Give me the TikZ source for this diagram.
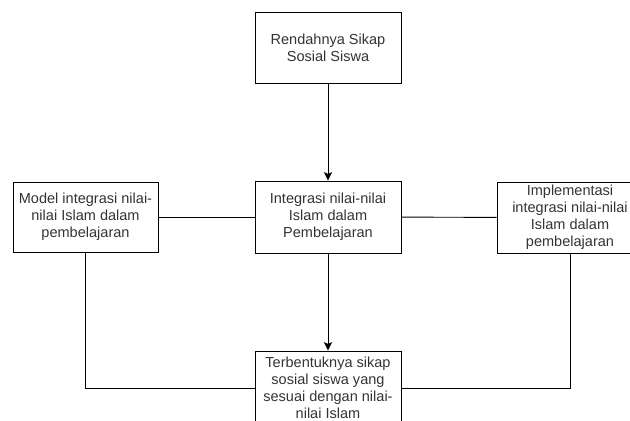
\documentclass[tikz,border=0pt]{standalone}
\usepackage{fontspec}
\setmainfont{Liberation Sans}
\usepackage{xcolor}
\usetikzlibrary{arrows.meta}
\definecolor{textgray}{RGB}{51,51,51}

\begin{document}
\begin{tikzpicture}[x=0.03cm,y=-0.03cm,
  box/.style={draw, line width=0.8pt, text=textgray, align=center, inner sep=0pt,
    font=\fontsize{12.4}{14.6}\selectfont, minimum width=4.38cm},
  link/.style={line width=0.8pt},
  arrow/.style={link, -{Stealth[length=0.25cm,width=0.24cm,inset=0.05cm]}}]
\useasboundingbox (0,0) rectangle (630,421);
\node[box, minimum height=2.13cm] (rendah) at (328,47.5) {Rendahnya Sikap\\Sosial Siswa};
\node[box, minimum height=2.1cm, minimum width=4.35cm] (model) at (85.5,217) {Model integrasi nilai-\\nilai Islam dalam\\pembelajaran};
\node[box, minimum height=2.16cm] (integrasi) at (328,217) {Integrasi nilai-nilai\\Islam dalam\\Pembelajaran};
\node[box, minimum height=2.13cm] (implementasi) at (570,217.5) {Implementasi\\integrasi nilai-nilai\\Islam dalam\\pembelajaran};
\node[box, minimum height=2.22cm] (terbentuk) at (328,388) {Terbentuknya sikap\\sosial siswa yang\\sesuai dengan nilai-\\nilai Islam};
% arrows down the middle
\draw[arrow] (rendah) -- (integrasi);
\draw[arrow] (integrasi) -- (terbentuk);
% side links
\draw[link] (model) -- (integrasi);
\draw[link] (integrasi) -- (implementasi);
\draw[link] (model.south) |- (terbentuk.west);
\draw[link] (implementasi.south) |- (terbentuk.east);
\end{tikzpicture}
\end{document}
